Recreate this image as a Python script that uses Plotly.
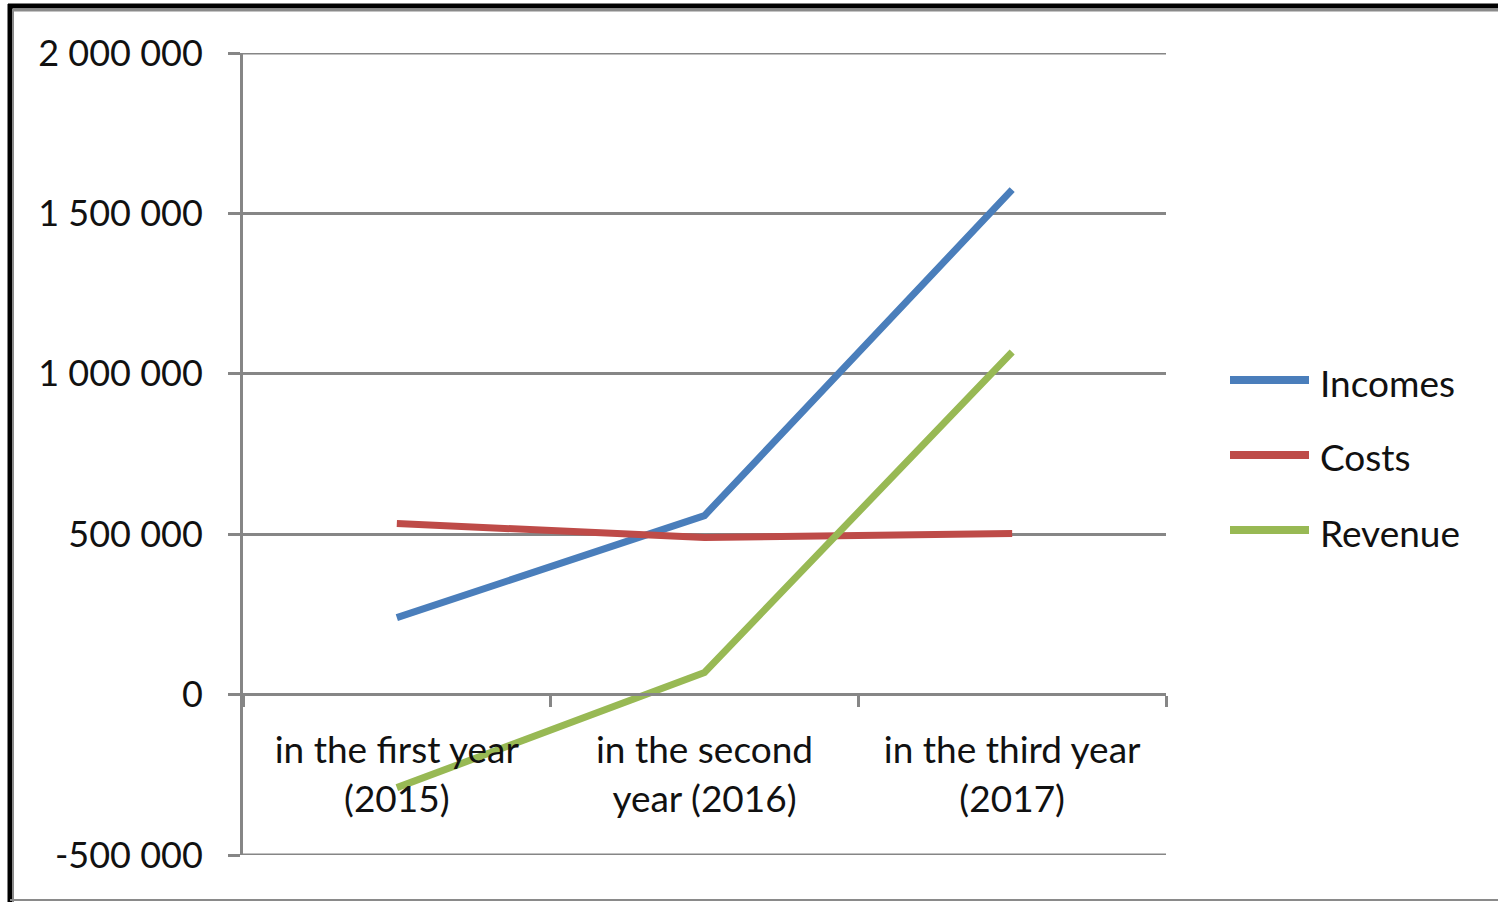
import plotly.graph_objects as go

categories = ["in the first year<br>(2015)", "in the second<br>year (2016)", "in the third year<br>(2017)"]
incomes = [240000, 558000, 1574000]
costs = [533000, 490000, 502000]
revenue = [-290000, 69000, 1068000]
series_names = ["Incomes", "Costs", "Revenue"]
y_tickvals = [-500000, 0, 500000, 1000000, 1500000, 2000000]
y_ticktext = ["-500 000", "0", "500 000", "1 000 000", "1 500 000", "2 000 000"]
y_range = [-500000, 2000000]

colors = ["#4a7ebb", "#be4b48", "#98b954"]
FONT = "Lato"
GRID = "#868686"
TXT = "#111111"

W, H = 1498, 902
L, R, T, B = 243, 1166, 53, 855

def px2x(px):
    return (px - L) / (R - L)

def px2y(py):
    return (B - py) / (B - T)

fig = go.Figure()
for name, vals, c in zip(series_names, [incomes, costs, revenue], colors):
    fig.add_trace(go.Scatter(x=categories, y=vals, mode="lines", name=name,
                             line=dict(color=c, width=7), showlegend=False))

shapes = []
annotations = []
# edge gridlines (plotly suppresses gridlines at the range ends)
for v in y_range:
    shapes.append(dict(type="line", xref="paper", yref="y", x0=0, x1=1, y0=v, y1=v,
                       layer="below", line=dict(color=GRID, width=3)))
# manual legend
leg_y = [380, 455, 530]
for name, c, yy in zip(series_names, colors, leg_y):
    shapes.append(dict(type="line", xref="paper", yref="paper",
                       x0=px2x(1230), x1=px2x(1309), y0=px2y(yy), y1=px2y(yy),
                       line=dict(color=c, width=8)))
    annotations.append(dict(xref="paper", yref="paper", x=px2x(1318), y=px2y(yy + 2),
                            text=name, showarrow=False, xanchor="left", yanchor="middle",
                            font=dict(family=FONT, size=37, color=TXT)))
# frame
shapes.append(dict(type="line", xref="paper", yref="paper", x0=px2x(10), x1=px2x(10),
                   y0=px2y(4), y1=px2y(902), line=dict(color="black", width=5)))
shapes.append(dict(type="line", xref="paper", yref="paper", x0=px2x(8), x1=px2x(1498),
                   y0=px2y(6), y1=px2y(6), line=dict(color="black", width=5)))
shapes.append(dict(type="line", xref="paper", yref="paper", x0=px2x(13), x1=px2x(1498),
                   y0=px2y(10), y1=px2y(10), line=dict(color="#8a8a8a", width=3)))
shapes.append(dict(type="line", xref="paper", yref="paper", x0=px2x(13), x1=px2x(13),
                   y0=px2y(9), y1=px2y(902), line=dict(color="#8a8a8a", width=2)))
shapes.append(dict(type="line", xref="paper", yref="paper", x0=px2x(10), x1=px2x(1498),
                   y0=px2y(900), y1=px2y(900), line=dict(color="#8a8a8a", width=2)))

fig.update_layout(
    width=W, height=H,
    margin=dict(l=L, r=W - R, t=T, b=H - B, pad=0),
    paper_bgcolor="white", plot_bgcolor="white",
    font=dict(family=FONT, size=36, color=TXT),
    shapes=shapes, annotations=annotations,
    xaxis=dict(type="category", anchor="free", position=px2y(694),
               showline=True, linecolor=GRID, linewidth=3,
               ticks="outside", tickson="boundaries", ticklen=11, tickwidth=3, tickcolor=GRID,
               showgrid=False, zeroline=False, range=[-0.5, 2.5],
               ticklabelstandoff=23,
               tickfont=dict(family=FONT, size=37, color=TXT)),
    yaxis=dict(range=y_range, tickvals=y_tickvals, ticktext=y_ticktext,
               showline=True, linecolor=GRID, linewidth=3,
               ticks="outside", ticklen=12, tickwidth=3, tickcolor=GRID,
               showgrid=True, gridcolor=GRID, gridwidth=3, zeroline=False,
               ticklabelstandoff=18,
               tickfont=dict(family=FONT, size=36, color=TXT)),
)

fig.write_html("out.html")
